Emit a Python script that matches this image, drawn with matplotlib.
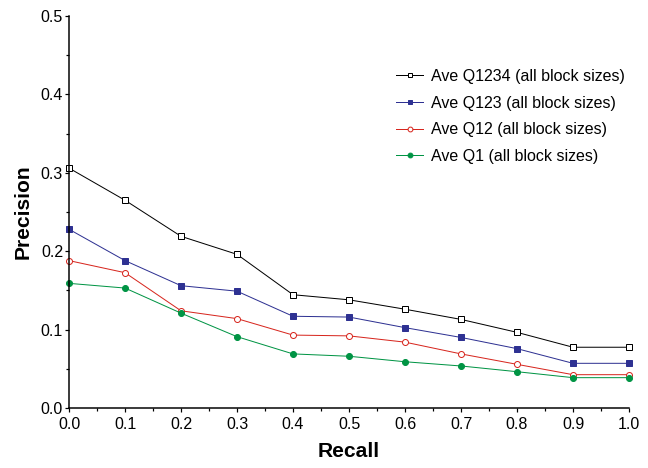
import matplotlib
matplotlib.use('Agg')
import matplotlib.pyplot as plt
from matplotlib.ticker import MultipleLocator

recall = [0.0, 0.1, 0.2, 0.3, 0.4, 0.5, 0.6, 0.7, 0.8, 0.9, 1.0]
q1234 = [0.306, 0.265, 0.219, 0.196, 0.1445, 0.138, 0.126, 0.113, 0.0965, 0.0775, 0.0775]
q123 = [0.228, 0.188, 0.156, 0.149, 0.117, 0.116, 0.1025, 0.090, 0.0757, 0.057, 0.057]
q12 = [0.188, 0.1726, 0.124, 0.114, 0.093, 0.092, 0.084, 0.069, 0.0557, 0.0425, 0.0425]
q1 = [0.159, 0.153, 0.121, 0.091, 0.069, 0.066, 0.059, 0.0536, 0.0463, 0.0387, 0.0387]
labels = ['Ave Q1234 (all block sizes)', 'Ave Q123 (all block sizes)',
          'Ave Q12 (all block sizes)', 'Ave Q1 (all block sizes)']

plt.rcParams['font.family'] = ['Liberation Sans', 'DejaVu Sans']

fig = plt.figure(figsize=(9, 6.5), dpi=72)
ax = fig.add_axes([0.1065, 0.1282, 0.8642, 0.8376])

ax.plot(recall, q1234, color='black', lw=1, marker='s', ms=6,
        mfc='white', mec='black', mew=1, label=labels[0])
ax.plot(recall, q123, color='#2e3192', lw=1, marker='s', ms=6,
        mfc='#2e3192', mec='#2e3192', label=labels[1])
ax.plot(recall, q12, color='#d7261e', lw=1, marker='o', ms=6,
        mfc='white', mec='#d7261e', mew=1, label=labels[2])
ax.plot(recall, q1, color='#009444', lw=1, marker='o', ms=6,
        mfc='#009444', mec='#009444', label=labels[3])

ax.set_xlim(0, 1.0)
ax.set_ylim(0, 0.5)
ax.xaxis.set_major_locator(MultipleLocator(0.1))
ax.xaxis.set_minor_locator(MultipleLocator(0.05))
ax.yaxis.set_major_locator(MultipleLocator(0.1))
ax.yaxis.set_minor_locator(MultipleLocator(0.05))
ax.xaxis.set_major_formatter(plt.FormatStrFormatter('%.1f'))
ax.yaxis.set_major_formatter(plt.FormatStrFormatter('%.1f'))

for side in ['top', 'right']:
    ax.spines[side].set_visible(False)
for side in ['left', 'bottom']:
    ax.spines[side].set_linewidth(1.5)
    ax.spines[side].set_clip_on(False)

ax.tick_params(which='major', length=4, width=1.2, labelsize=16)
ax.tick_params(which='minor', length=3, width=1.2)
ax.tick_params(axis='y', pad=2)
ax.tick_params(axis='x', pad=5)

ax.set_xlabel('Recall', fontsize=21, fontweight='bold', labelpad=10)
ax.set_ylabel('Precision', fontsize=21, fontweight='bold', labelpad=8)

for line in ax.get_lines():
    line.set_clip_on(False)

ax.legend(loc='upper left', bbox_to_anchor=(0.57, 0.885), frameon=False,
          fontsize=16, handlelength=1.7, handletextpad=0.45, labelspacing=0.72,
          markerscale=0.8, borderpad=0)

fig.savefig('out.png', dpi=72)
